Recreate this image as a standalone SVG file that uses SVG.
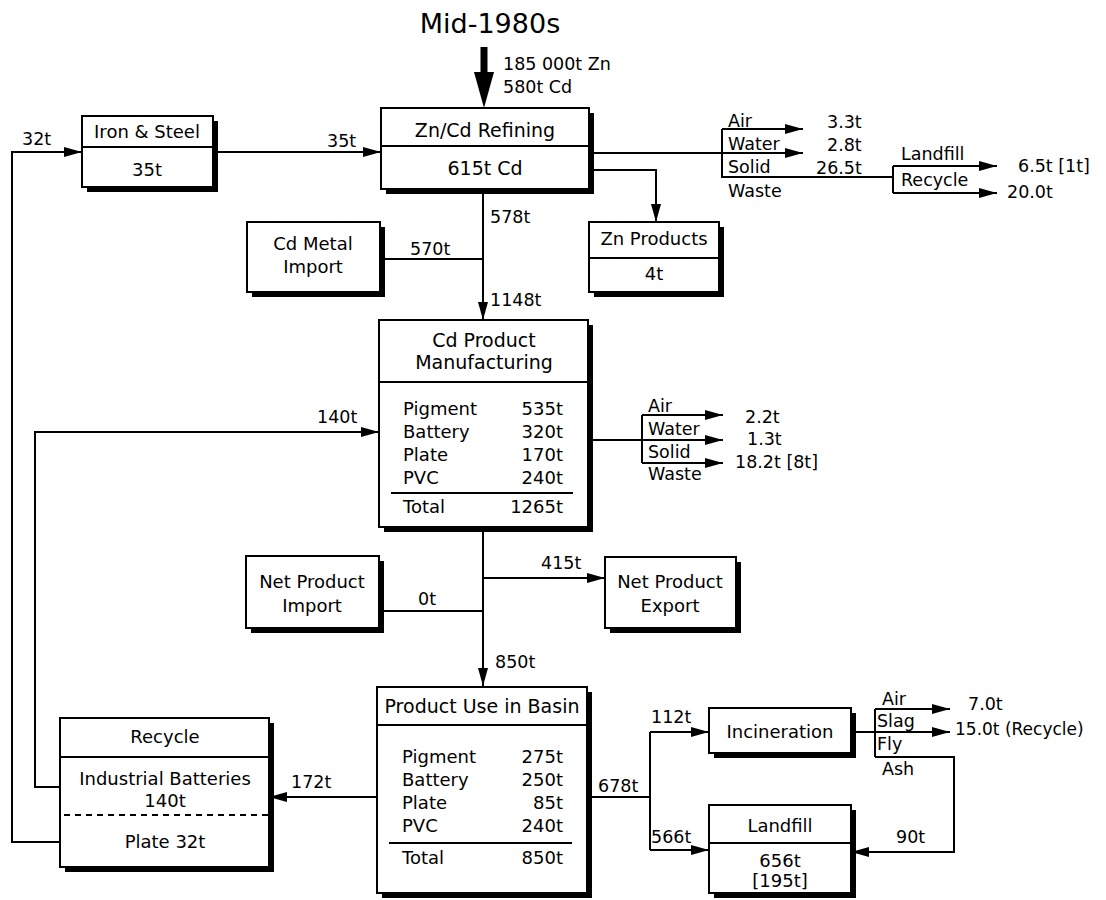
<svg xmlns="http://www.w3.org/2000/svg" width="1106" height="900" viewBox="0 0 1106 900">
<defs>
<style>
.box{fill:#fff;stroke:#000;stroke-width:2}
.sh{fill:#000}
.ln{fill:none;stroke:#000;stroke-width:2}
.ar{marker-end:url(#ah)}
text{font-family:"DejaVu Sans","Liberation Sans",sans-serif;font-size:18px;fill:#000}
.h{font-size:19px}
.l{font-size:17.5px}
.c{text-anchor:middle}
.e{text-anchor:end}
</style>
<marker id="ah" markerUnits="userSpaceOnUse" markerWidth="18" markerHeight="10" refX="18" refY="5" orient="auto">
<path d="M0,0 L18,5 L0,10 z" fill="#000"/>
</marker>
</defs>
<rect width="1106" height="900" fill="#fff"/>

<text x="490" y="33" class="c" style="font-size:27px">Mid-1980s</text>

<g id="connectors">
<line x1="484" y1="47" x2="484" y2="75" stroke="#000" stroke-width="7"/>
<polygon points="474,72 494,72 484,108" fill="#000"/>
<path class="ln ar" d="M60,842 H12 V152 H82"/>
<path class="ln ar" d="M213,152 H381"/>
<path class="ln" d="M589,153 H722 M722,129 V177 H893 M893,166 V193"/>
<path class="ln ar" d="M722,129 H803"/>
<path class="ln ar" d="M722,153 H803"/>
<path class="ln ar" d="M893,166 H997"/>
<path class="ln ar" d="M893,193 H997"/>
<path class="ln ar" d="M589,170 H656 V222"/>
<path class="ln ar" d="M483,189 V320"/>
<path class="ln" d="M380,259 H483"/>
<path class="ln ar" d="M60,787 H35 V432 H379"/>
<path class="ln" d="M588,440 H642 M642,415 V463"/>
<path class="ln ar" d="M642,415 H723"/>
<path class="ln ar" d="M642,440 H723"/>
<path class="ln ar" d="M642,463 H723"/>
<path class="ln ar" d="M483,527 V686"/>
<path class="ln ar" d="M483,578 H605"/>
<path class="ln" d="M379,611 H483"/>
<path class="ln ar" d="M377,797 H269"/>
<path class="ln" d="M587,797 H650 M650,732 V850"/>
<path class="ln ar" d="M650,732 H709"/>
<path class="ln ar" d="M650,850 H709"/>
<path class="ln ar" d="M851,732 H950"/>
<path class="ln" d="M875,709 V757"/>
<path class="ln ar" d="M875,709 H950"/>
<path class="ln ar" d="M875,757 H954 V852 H851"/>
</g>

<g id="labels">
<text x="503" y="70" class="l">185 000t Zn</text>
<text x="503" y="93" class="l">580t Cd</text>
<text x="22" y="145" class="l">32t</text>
<text x="327" y="147" class="l">35t</text>
<text x="728" y="127" class="l">Air</text>
<text x="728" y="150" class="l">Water</text>
<text x="728" y="173" class="l">Solid</text>
<text x="728" y="197" class="l">Waste</text>
<text x="827" y="128" class="l">3.3t</text>
<text x="827" y="151" class="l">2.8t</text>
<text x="816" y="174" class="l">26.5t</text>
<text x="901" y="160" class="l">Landfill</text>
<text x="901" y="186" class="l">Recycle</text>
<text x="1018" y="172" class="l">6.5t [1t]</text>
<text x="1007" y="198" class="l">20.0t</text>
<text x="490" y="223" class="l">578t</text>
<text x="410" y="255" class="l">570t</text>
<text x="490" y="306" class="l">1148t</text>
<text x="317" y="423" class="l">140t</text>
<text x="648" y="412" class="l">Air</text>
<text x="648" y="435" class="l">Water</text>
<text x="648" y="458" class="l">Solid</text>
<text x="648" y="480" class="l">Waste</text>
<text x="745" y="423" class="l">2.2t</text>
<text x="747" y="445" class="l">1.3t</text>
<text x="735" y="468" class="l">18.2t [8t]</text>
<text x="541" y="569" class="l">415t</text>
<text x="418" y="605" class="l">0t</text>
<text x="495" y="668" class="l">850t</text>
<text x="291" y="788" class="l">172t</text>
<text x="598" y="792" class="l">678t</text>
<text x="651" y="723" class="l">112t</text>
<text x="651" y="843" class="l">566t</text>
<text x="882" y="705" class="l">Air</text>
<text x="877" y="727" class="l">Slag</text>
<text x="877" y="750" class="l">Fly</text>
<text x="882" y="775" class="l">Ash</text>
<text x="968" y="710" class="l">7.0t</text>
<text x="955" y="735" style="font-size:17px">15.0t (Recycle)</text>
<text x="896" y="843" class="l">90t</text>
</g>

<g id="iron-steel">
<rect x="87" y="121" width="131" height="71" class="sh"/>
<rect x="82" y="116" width="131" height="71" class="box"/>
<line x1="82" y1="147" x2="213" y2="147" class="ln"/>
<text x="147" y="138" class="c">Iron &amp; Steel</text>
<text x="147" y="176" class="c">35t</text>
</g>

<g id="zncd-refining">
<rect x="386" y="113" width="208" height="81" class="sh"/>
<rect x="381" y="108" width="208" height="81" class="box"/>
<line x1="381" y1="146" x2="589" y2="146" class="ln"/>
<text x="485" y="137" class="c h">Zn/Cd Refining</text>
<text x="485" y="175" class="c h">615t Cd</text>
</g>

<g id="zn-products">
<rect x="594" y="227" width="130" height="70" class="sh"/>
<rect x="589" y="222" width="130" height="70" class="box"/>
<line x1="589" y1="258" x2="719" y2="258" class="ln"/>
<text x="654" y="245" class="c">Zn Products</text>
<text x="654" y="280" class="c">4t</text>
</g>

<g id="cd-metal-import">
<rect x="252" y="227" width="133" height="70" class="sh"/>
<rect x="247" y="222" width="133" height="70" class="box"/>
<text x="313" y="250" class="c">Cd Metal</text>
<text x="313" y="273" class="c">Import</text>
</g>

<g id="cd-product-manufacturing">
<rect x="384" y="325" width="209" height="207" class="sh"/>
<rect x="379" y="320" width="209" height="207" class="box"/>
<line x1="379" y1="382" x2="588" y2="382" class="ln"/>
<text x="484" y="347" class="c h">Cd Product</text>
<text x="484" y="369" class="c h">Manufacturing</text>
<text x="403" y="415">Pigment</text><text x="563" y="415" class="e">535t</text>
<text x="403" y="438">Battery</text><text x="563" y="438" class="e">320t</text>
<text x="403" y="461">Plate</text><text x="563" y="461" class="e">170t</text>
<text x="403" y="484">PVC</text><text x="563" y="484" class="e">240t</text>
<line x1="391" y1="493" x2="573" y2="493" class="ln"/>
<text x="403" y="513">Total</text><text x="563" y="513" class="e">1265t</text>
</g>

<g id="net-product-import">
<rect x="251" y="561" width="133" height="72" class="sh"/>
<rect x="246" y="556" width="133" height="72" class="box"/>
<text x="312" y="588" class="c">Net Product</text>
<text x="312" y="612" class="c">Import</text>
</g>

<g id="net-product-export">
<rect x="610" y="562" width="131" height="71" class="sh"/>
<rect x="605" y="557" width="131" height="71" class="box"/>
<text x="670" y="588" class="c">Net Product</text>
<text x="670" y="612" class="c">Export</text>
</g>

<g id="product-use">
<rect x="382" y="692" width="210" height="206" class="sh"/>
<rect x="377" y="687" width="210" height="206" class="box"/>
<line x1="377" y1="725" x2="587" y2="725" class="ln"/>
<text x="482" y="713" class="c h">Product Use in Basin</text>
<text x="402" y="763">Pigment</text><text x="563" y="763" class="e">275t</text>
<text x="402" y="786">Battery</text><text x="563" y="786" class="e">250t</text>
<text x="402" y="809">Plate</text><text x="563" y="809" class="e">85t</text>
<text x="402" y="832">PVC</text><text x="563" y="832" class="e">240t</text>
<line x1="389" y1="843" x2="572" y2="843" class="ln"/>
<text x="402" y="864">Total</text><text x="563" y="864" class="e">850t</text>
</g>

<g id="recycle">
<rect x="65" y="723" width="209" height="149" class="sh"/>
<rect x="60" y="718" width="209" height="149" class="box"/>
<line x1="60" y1="757" x2="269" y2="757" class="ln"/>
<line x1="64" y1="815" x2="268" y2="815" stroke="#000" stroke-width="2" stroke-dasharray="6,5"/>
<text x="165" y="743" class="c">Recycle</text>
<text x="165" y="785" class="c">Industrial Batteries</text>
<text x="165" y="807" class="c">140t</text>
<text x="165" y="848" class="c">Plate 32t</text>
</g>

<g id="incineration">
<rect x="714" y="713" width="142" height="45" class="sh"/>
<rect x="709" y="708" width="142" height="45" class="box"/>
<text x="780" y="738" class="c">Incineration</text>
</g>

<g id="landfill">
<rect x="714" y="810" width="142" height="88" class="sh"/>
<rect x="709" y="805" width="142" height="88" class="box"/>
<line x1="709" y1="843" x2="851" y2="843" class="ln"/>
<text x="780" y="832" class="c">Landfill</text>
<text x="780" y="867" class="c">656t</text>
<text x="780" y="887" class="c">[195t]</text>
</g>
</svg>
